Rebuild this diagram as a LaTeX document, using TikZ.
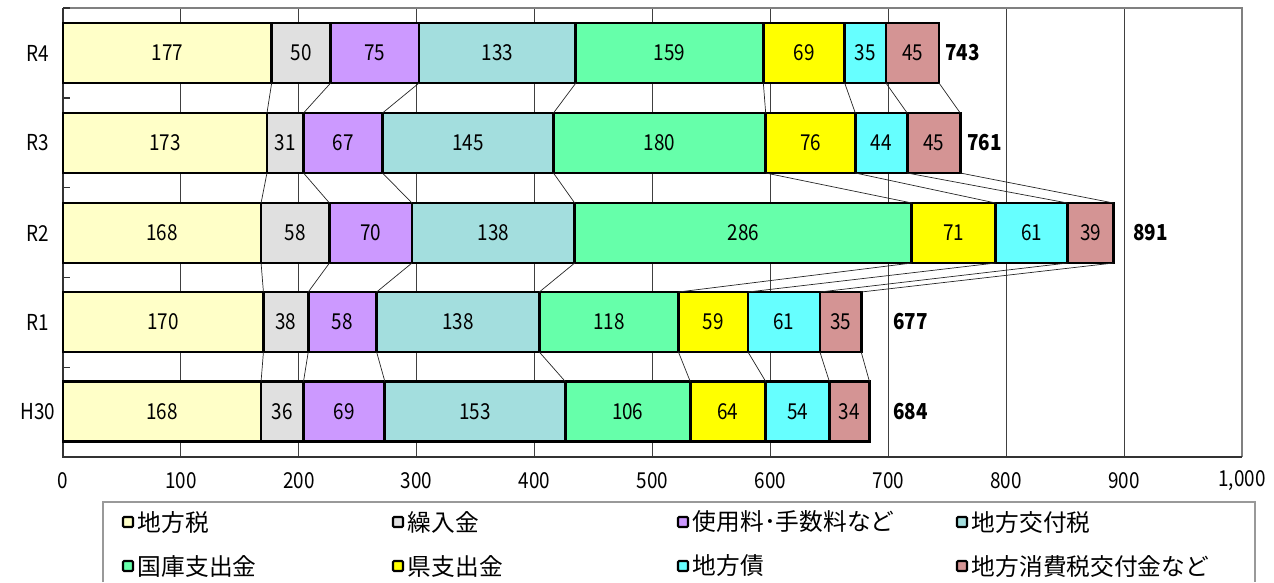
\documentclass[tikz,border=0pt]{standalone}
\usepackage{fontspec}
\setmainfont{Noto Sans CJK JP}
\newfontfamily\numfont[FakeStretch=0.86]{Noto Sans CJK JP}
\usetikzlibrary{positioning}

\definecolor{barcol1}{HTML}{FFFFC8}
\definecolor{barcol2}{HTML}{E0E0E0}
\definecolor{barcol3}{HTML}{CC99FF}
\definecolor{barcol4}{HTML}{A3DEDE}
\definecolor{barcol5}{HTML}{66FFAA}
\definecolor{barcol6}{HTML}{FFFF00}
\definecolor{barcol7}{HTML}{66FFFF}
\definecolor{barcol8}{HTML}{D49494}

\tikzset{
  segbox/.style={draw=black, line width=1.6pt, fill=#1},
  segnum/.style={font=\numfont\fontsize{12.5}{14}\selectfont, inner sep=0pt},
  totlab/.style={font=\numfont\bfseries\fontsize{12.5}{14}\selectfont, anchor=west, inner sep=0pt},
  rowlab/.style={font=\numfont\fontsize{12.5}{14}\selectfont, inner sep=0pt},
  axnum/.style={font=\numfont\fontsize{12.5}{14}\selectfont, inner sep=0pt},
  link/.style={line width=0.4pt, black!85},
  gridline/.style={line width=0.6pt, black!75},
  legkey/.style={draw=black, line width=1.2pt, fill=#1, minimum size=0.2cm, inner sep=0pt, rounded corners=0.6pt},
  legtxt/.style={font=\fontsize{13.5}{15}\selectfont, inner sep=0pt, anchor=west}
}

\begin{document}
\begin{tikzpicture}[x=0.02cm, y=-0.02cm]
	\useasboundingbox (0,0) rectangle (1274,582);
	% grid and frame
	\foreach \g in {1,...,9}
	{
		\draw[gridline] ({63+117.9*\g},8) -- ({63+117.9*\g},457);
	}
	\draw[gray, line width=1.2pt] (63,8) -- (1242,8) -- (1242,457);
	\draw[black!80, line width=1pt] (63,8) -- (63,457) -- (1242,457);
	\foreach \i in {0,...,5}
	{
		\draw[black!80, line width=0.8pt] (63,{8+89.8*\i}) -- (70,{8+89.8*\i});
	}
	\foreach \g/\lab in {0/0,1/100,2/200,3/300,4/400,5/500,6/600,7/700,8/800,9/900,10/{1,000}}
	{
		\node[axnum] (xl\g) at ({63+117.9*\g},481) {\lab};
	}
	% bars
	\foreach \row/\yc/\tx/\tot/\vals [count=\ri] in {
		R4/53/945/743/{177,50,75,133,159,69,35,45},
		R3/143/967/761/{173,31,67,145,180,76,44,45},
		R2/233/1133/891/{168,58,70,138,286,71,61,39},
		R1/322/893/677/{170,38,58,138,118,59,61,35},
		H30/411.5/893/684/{168,36,69,153,106,64,54,34}}
	{
		\node[rowlab] (lab\ri) at (38,\yc) {\row};
		\xdef\cum{0}
		\foreach \v [count=\k] in \vals
		{
			\pgfmathsetmacro\xa{63+1.179*\cum}
			\pgfmathsetmacro\nc{\cum+\v}
			\pgfmathsetmacro\xb{63+1.179*\nc}
			\draw[segbox=barcol\k] (\xa,{\yc-30}) rectangle (\xb,{\yc+30});
			\node[segnum] (n-\ri-\k) at ({(\xa+\xb)/2},\yc) {\v};
			\coordinate (t-\ri-\k) at (\xb,{\yc-30});
			\coordinate (b-\ri-\k) at (\xb,{\yc+30});
			\xdef\cum{\nc}
		}
		\node[totlab] (tot\ri) at (\tx,\yc) {\tot};
	}
	% lines between bars
	\foreach \r [evaluate=\r as \s using int(\r+1)] in {1,...,4}
	{
		\foreach \k in {1,...,8}
		{
			\draw[link] (b-\r-\k) -- (t-\s-\k);
		}
	}
	% legend
	\draw[gray!80, line width=0.8pt] (103,582) |- (1255,502) -- (1255,582);
	\foreach \k/\lx/\ly/\txt in {1/128/522/地方税, 2/398/522/繰入金, 3/683/522/使用料･手数料など, 4/962/522/地方交付税,
		5/128/566/国庫支出金, 6/398/566/県支出金, 7/683/566/地方債, 8/962/566/地方消費税交付金など}
	{
		\node[legkey=barcol\k] (key\k) at (\lx,\ly) {};
		\node[legtxt, right=2pt of key\k] (leg\k) {\txt};
	}
\end{tikzpicture}
\end{document}
